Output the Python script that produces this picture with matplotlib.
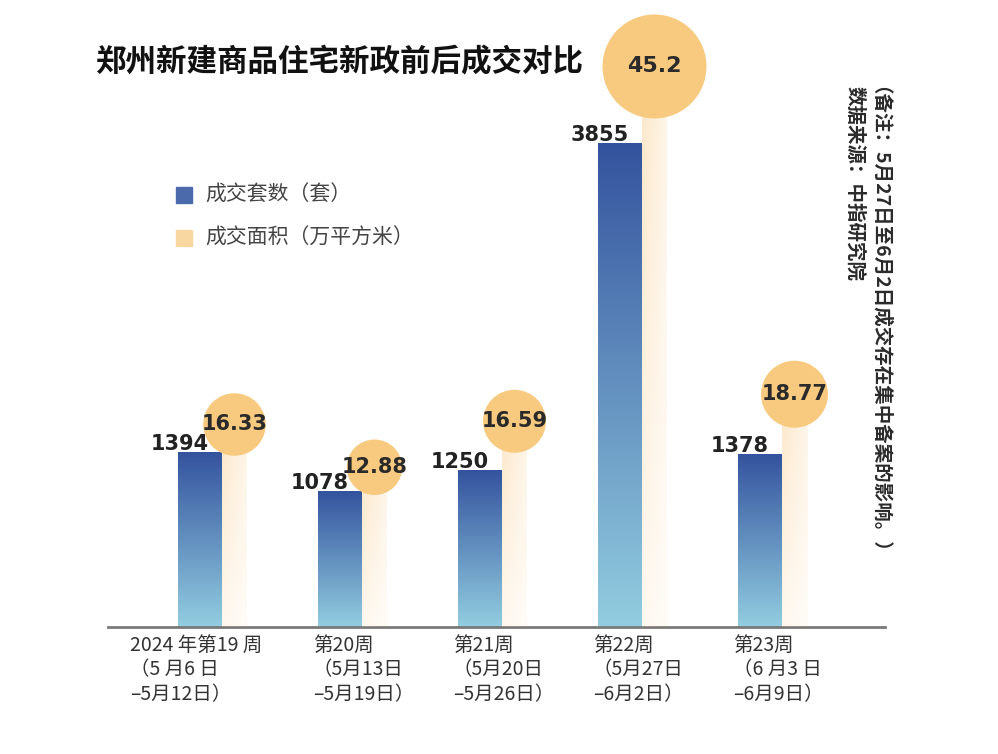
import numpy as np
import matplotlib.pyplot as plt
from matplotlib.patches import Rectangle
from matplotlib.colors import to_rgb

plt.rcParams['font.family'] = ['Noto Sans CJK SC', 'DejaVu Sans']

title = '郑州新建商品住宅新政前后成交对比'
weeks = [
    '2024 年第19 周\n（5 月6 日\n–5月12日）',
    '第20周\n（5月13日\n–5月19日）',
    '第21周\n（5月20日\n–5月26日）',
    '第22周\n（5月27日\n–6月2日）',
    '第23周\n（6 月3 日\n–6月9日）',
]
units_sold = [1394, 1078, 1250, 3855, 1378]      # 成交套数（套）
area_sold = [16.33, 12.88, 16.59, 45.2, 18.77]   # 成交面积（万平方米）
legend_labels = ['成交套数（套）', '成交面积（万平方米）']
note = '（备注：5月27日至6月2日成交存在集中备案的影响。）'
source = '数据来源：中指研究院'

W, H = 998, 754


def fx(px):
    return px / W


def fy(py):
    return 1 - py / H


def gradient(top, bottom, n=256):
    t = np.linspace(0, 1, n)[:, None]
    top, bottom = np.array(to_rgb(top)), np.array(to_rgb(bottom))
    img = bottom[None, :] * (1 - t) + top[None, :] * t
    return img[:, None, :]


fig = plt.figure(figsize=(W / 100, H / 100), dpi=100)
ax = fig.add_axes([fx(108), fy(627), (885 - 108) / W, 627 / H])
ax2 = ax.twinx()

step = 140.0
bw = 44 / step
ow = 25 / step

blue_img = gradient('#34539e', '#92cde0')

# pale orange column, fading to the bottom and to the right
ny, nx = 200, 20
ty = np.linspace(0, 1, ny)[:, None]
tx = np.linspace(0, 1, nx)[None, :]
orange_img = np.zeros((ny, nx, 4))
orange_img[..., :3] = to_rgb('#f9cf92')
orange_img[..., 3] = 0.5 * (0.3 + 0.7 * ty) * (1 - 0.55 * tx)

for i, v in enumerate(units_sold):
    ax.imshow(blue_img, extent=(i - bw / 2, i + bw / 2, 0, v),
              aspect='auto', origin='lower', zorder=2)
    ax.annotate(str(v), xy=(i - 20 / step, v), xytext=(0, 2),
                textcoords='offset points', ha='center', va='baseline',
                fontsize=15, fontweight='bold', color='#222222',
                family='DejaVu Sans', zorder=5)

cx = [i + bw / 2 + ow / 2 for i in range(len(area_sold))]
for i, a in enumerate(area_sold):
    ax2.imshow(orange_img, extent=(i + bw / 2, i + bw / 2 + ow, 0, a),
               aspect='auto', origin='lower', zorder=1)
ax2.scatter(cx, area_sold, s=[124 * a for a in area_sold], color='#f8ca80',
            edgecolors='none', zorder=3, clip_on=False)
for x, a in zip(cx, area_sold):
    ax2.text(x, a, f'{a:g}', ha='center', va='center',
             fontsize=16 if a > 40 else 15, fontweight='bold',
             color='#2a2a2a', family='DejaVu Sans', zorder=4)

x_min = -(200 - 108) / step
ax.set_xlim(x_min, x_min + (885 - 108) / step)
ax.set_ylim(0, 5004)
ax2.set_ylim(0, 50.56)

for a in (ax, ax2):
    a.set_xticks([])
    a.set_yticks([])
    for s in a.spines.values():
        s.set_visible(False)
ax.spines['bottom'].set_visible(True)
ax.spines['bottom'].set_color('#7a7a7a')
ax.spines['bottom'].set_linewidth(2)
ax.patch.set_alpha(0)

# category labels under the axis
for i, lab in enumerate(weeks):
    if i == 0:
        x, ha = i - 4 / step, 'center'
    else:
        x, ha = i - bw / 2 - 5 / step, 'left'
    ax.annotate(lab, xy=(x, 0), xycoords=('data', 'axes fraction'),
                xytext=(0, -6), textcoords='offset points',
                ha=ha, va='top', multialignment='left',
                fontsize=14, color='#333333', linespacing=1.2)

# title
fig.text(fx(95), fy(62), title, ha='left', va='center', fontsize=22,
         fontweight='bold', color='#111111')

# legend
fig.patches.append(Rectangle((fx(176), fy(203)), 16 / W, 16 / H,
                             transform=fig.transFigure, color='#4a6aab'))
fig.patches.append(Rectangle((fx(176), fy(246)), 16 / W, 16 / H,
                             transform=fig.transFigure, color='#f8d7a0'))
fig.text(fx(205), fy(195), legend_labels[0], ha='left', va='center',
         fontsize=15, color='#444444')
fig.text(fx(205), fy(238), legend_labels[1], ha='left', va='center',
         fontsize=15, color='#444444')

# vertical notes on the right
for px, txt in ((849, source), (864, note)):
    fig.text(fx(px), fy(86), txt, rotation=-90, rotation_mode='anchor',
             ha='left', va='baseline', fontsize=14, fontweight='bold',
             color='#2a2a2a')

fig.savefig('out.png', dpi=100)
